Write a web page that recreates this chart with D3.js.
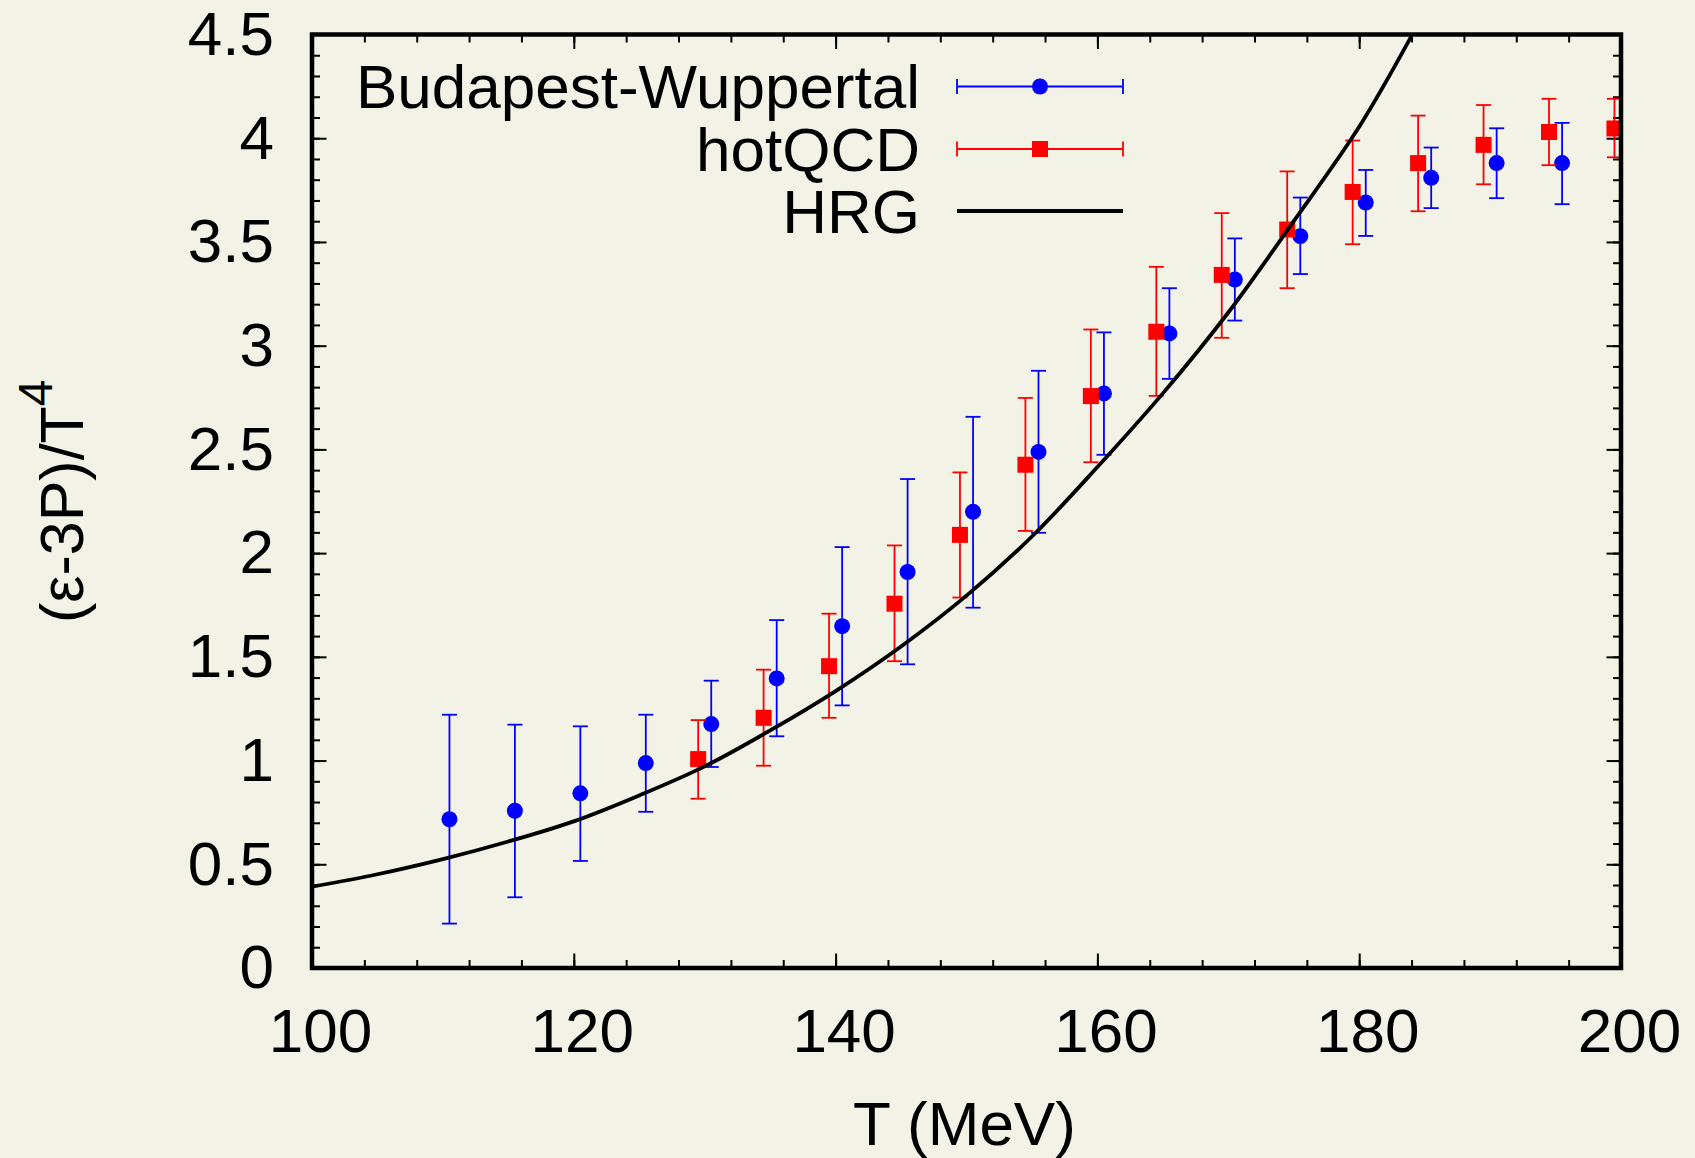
<!DOCTYPE html>
<html>
<head>
<meta charset="utf-8">
<script src="https://cdnjs.cloudflare.com/ajax/libs/d3/7.8.5/d3.min.js"></script>
<style>
    body { margin: 0; background: #f2f2e6; }
    svg text { font-family: "Liberation Sans", Arial, Helvetica, sans-serif; fill: #000; }
</style>
</head>
<body>
<div id="chart"></div>
<script>

// Budapest-Wuppertal lattice points
const bwT    = [110.5, 115.5, 120.5, 125.5, 130.5, 135.5, 140.5, 145.5, 150.5, 155.5, 160.5, 165.5, 170.5, 175.5, 180.5, 185.5, 190.5, 195.5];
const bwVal  = [0.717, 0.758, 0.842, 0.988, 1.176, 1.396, 1.648, 1.909, 2.199, 2.488, 2.770, 3.059, 3.319, 3.528, 3.690, 3.809, 3.880, 3.880];
const bwLow  = [0.214, 0.341, 0.516, 0.753, 0.969, 1.117, 1.266, 1.464, 1.737, 2.098, 2.474, 2.840, 3.121, 3.345, 3.529, 3.663, 3.711, 3.682];
const bwHigh = [1.221, 1.173, 1.165, 1.221, 1.385, 1.677, 2.029, 2.357, 2.657, 2.879, 3.064, 3.277, 3.517, 3.714, 3.847, 3.955, 4.048, 4.074];

// hotQCD lattice points
const hqT    = [129.5, 134.5, 139.5, 144.5, 149.5, 154.5, 159.5, 164.5, 169.5, 174.5, 179.5, 184.5, 189.5, 194.5, 199.5];
const hqVal  = [1.007, 1.206, 1.455, 1.756, 2.088, 2.426, 2.757, 3.067, 3.341, 3.560, 3.741, 3.880, 3.968, 4.030, 4.047];
const hqLow  = [0.816, 0.975, 1.206, 1.479, 1.786, 2.107, 2.438, 2.758, 3.038, 3.277, 3.489, 3.648, 3.778, 3.870, 3.908];
const hqHigh = [1.195, 1.438, 1.708, 2.037, 2.389, 2.748, 3.078, 3.380, 3.639, 3.840, 3.989, 4.109, 4.160, 4.190, 4.190];

// hadron resonance gas curve
const hrgT   = [100, 105, 110, 115, 120, 125, 130, 135, 140, 145, 150, 155, 160, 165, 170, 175, 180, 184];
const hrgVal = [0.392, 0.452, 0.525, 0.610, 0.707, 0.832, 0.972, 1.145, 1.335, 1.550, 1.795, 2.080, 2.415, 2.770, 3.160, 3.600, 4.055, 4.493];

// axes
const xTicks = [100, 120, 140, 160, 180, 200];
const xTickLabels = ["100", "120", "140", "160", "180", "200"];
const yTicks = [0, 0.5, 1, 1.5, 2, 2.5, 3, 3.5, 4, 4.5];
const yTickLabels = ["0", "0.5", "1", "1.5", "2", "2.5", "3", "3.5", "4", "4.5"];

const seriesNames = ["Budapest-Wuppertal", "hotQCD", "HRG"];


class EosChart {

    constructor(parentElement) {
        this._parentElement = parentElement;
        this.initVis();
    }

    initVis() {
        let vis = this;

        vis.margin = {top: 34.5, right: 74, bottom: 190, left: 312};
        vis.width = 1695 - vis.margin.left - vis.margin.right;
        vis.height = 1158 - vis.margin.top - vis.margin.bottom;

        vis.root = d3.select("#" + vis._parentElement).append("svg")
            .attr("width", 1695)
            .attr("height", 1158)
            .style("display", "block");

        vis.root.append("rect")
            .attr("width", 1695)
            .attr("height", 1158)
            .attr("fill", "#f2f2e6");

        vis.svg = vis.root.append("g")
            .attr("transform", "translate(" + vis.margin.left + "," + vis.margin.top + ")");

        vis.svg.append("clipPath")
            .attr("id", "plot-clip")
            .append("rect")
            .attr("width", vis.width)
            .attr("height", vis.height);

        // Scales
        vis.x = d3.scaleLinear().domain([100, 200]).range([0, vis.width]);
        vis.y = d3.scaleLinear().domain([0, 4.5]).range([vis.height, 0]);

        vis.drawAxes();
        vis.updateVis();
        vis.drawLegend();
    }

    drawAxes() {
        let vis = this;
        let major = 14.5, minor = 8;
        let xMinor = d3.range(100, 200.1, 4);
        let yMinor = d3.range(0, 45.1, 1).map(d => d / 10);

        let addAxis = function(axis, tf, cls) {
            let g = vis.svg.append("g")
                .attr("class", cls)
                .attr("transform", tf)
                .call(axis);
            g.select(".domain").remove();
            g.selectAll(".tick line").attr("stroke", "#000").attr("stroke-width", 2);
            return g;
        };

        // minor ticks on all four sides
        addAxis(d3.axisBottom(vis.x).tickValues(xMinor).tickSize(-minor).tickFormat(""), "translate(0," + vis.height + ")", "x-minor");
        addAxis(d3.axisTop(vis.x).tickValues(xMinor).tickSize(-minor).tickFormat(""), "translate(0,0)", "x-minor");
        addAxis(d3.axisLeft(vis.y).tickValues(yMinor).tickSize(-minor).tickFormat(""), "translate(0,0)", "y-minor");
        addAxis(d3.axisRight(vis.y).tickValues(yMinor).tickSize(-minor).tickFormat(""), "translate(" + vis.width + ",0)", "y-minor");

        // major ticks
        let xAxis = addAxis(d3.axisBottom(vis.x).tickValues(xTicks).tickSize(-major).tickPadding(40)
            .tickFormat((d, i) => xTickLabels[i]), "translate(0," + vis.height + ")", "x-axis axis");
        xAxis.selectAll("text").attr("font-size", 62).attr("dx", 8);

        addAxis(d3.axisTop(vis.x).tickValues(xTicks).tickSize(-major).tickFormat(""), "translate(0,0)", "x-top");

        let yAxis = addAxis(d3.axisLeft(vis.y).tickValues(yTicks).tickSize(-major).tickPadding(38)
            .tickFormat((d, i) => yTickLabels[i]), "translate(0,0)", "y-axis axis");
        yAxis.selectAll("text").attr("font-size", 62);

        addAxis(d3.axisRight(vis.y).tickValues(yTicks).tickSize(-major).tickFormat(""), "translate(" + vis.width + ",0)", "y-right");

        vis.svg.selectAll(".axis text").attr("font-family", null);

        // axis titles
        vis.svg.append("text")
            .attr("x", vis.width / 2 - 2)
            .attr("y", vis.height + 177)
            .attr("text-anchor", "middle")
            .attr("font-size", 62)
            .text("T (MeV)");

        let yTitle = vis.root.append("text")
            .attr("transform", "translate(83," + (vis.margin.top + vis.height / 2) + ") rotate(-90)")
            .attr("text-anchor", "middle")
            .attr("font-size", 61);
        yTitle.append("tspan").text("(ε-3P)/T");
        yTitle.append("tspan").attr("dy", -31).attr("font-size", 48).text("4");
    }

    drawErrorSeries(T, val, low, high, color, cls) {
        let vis = this;
        let data = T.map((t, i) => ({t: t, v: val[i], lo: low[i], hi: high[i]}));
        let cap = 7.5;

        let g = vis.svg.append("g").attr("class", cls);

        let bars = g.selectAll(".bar").data(data).enter().append("g").attr("class", "bar")
            .attr("stroke", color).attr("stroke-width", 1.8);
        bars.append("line")
            .attr("x1", d => vis.x(d.t)).attr("x2", d => vis.x(d.t))
            .attr("y1", d => vis.y(d.lo)).attr("y2", d => vis.y(d.hi));
        bars.append("line")
            .attr("x1", d => vis.x(d.t) - cap).attr("x2", d => vis.x(d.t) + cap)
            .attr("y1", d => vis.y(d.lo)).attr("y2", d => vis.y(d.lo));
        bars.append("line")
            .attr("x1", d => vis.x(d.t) - cap).attr("x2", d => vis.x(d.t) + cap)
            .attr("y1", d => vis.y(d.hi)).attr("y2", d => vis.y(d.hi));
        return {g: g, data: data};
    }

    updateVis() {
        let vis = this;

        // Budapest-Wuppertal: blue circles
        let bw = vis.drawErrorSeries(bwT, bwVal, bwLow, bwHigh, "#0000ff", "bw");
        bw.g.selectAll("circle").data(bw.data).enter().append("circle")
            .attr("cx", d => vis.x(d.t))
            .attr("cy", d => vis.y(d.v))
            .attr("r", 8)
            .attr("fill", "#0000ff");

        // hotQCD: red squares
        let hq = vis.drawErrorSeries(hqT, hqVal, hqLow, hqHigh, "#ff0000", "hq");
        hq.g.selectAll("rect").data(hq.data).enter().append("rect")
            .attr("x", d => vis.x(d.t) - 8)
            .attr("y", d => vis.y(d.v) - 8)
            .attr("width", 16)
            .attr("height", 16)
            .attr("fill", "#ff0000");

        // HRG line
        vis.line = d3.line()
            .x((d, i) => vis.x(hrgT[i]))
            .y(d => vis.y(d))
            .curve(d3.curveCatmullRom.alpha(0.5));

        vis.svg.append("path")
            .datum(hrgVal)
            .attr("clip-path", "url(#plot-clip)")
            .attr("fill", "none")
            .attr("stroke", "#000")
            .attr("stroke-width", 3.8)
            .attr("d", vis.line);

        // frame
        vis.svg.append("rect")
            .attr("width", vis.width)
            .attr("height", vis.height)
            .attr("fill", "none")
            .attr("stroke", "#000")
            .attr("stroke-width", 4.5);
    }

    drawLegend() {
        let vis = this;
        let textX = 920, x0 = 957, x1 = 1123, xm = (x0 + x1) / 2;
        let rows = [86.5, 149, 211];
        let colors = ["#0000ff", "#ff0000", "#000"];

        let lg = vis.root.append("g").attr("class", "legend");

        rows.forEach(function(ry, i) {
            lg.append("text")
                .attr("x", textX)
                .attr("y", ry + 21.5)
                .attr("text-anchor", "end")
                .attr("font-size", 62)
                .text(seriesNames[i]);

            lg.append("line")
                .attr("x1", x0).attr("x2", x1)
                .attr("y1", ry).attr("y2", ry)
                .attr("stroke", colors[i])
                .attr("stroke-width", i === 2 ? 3.8 : 1.8);

            if (i < 2) {
                [x0, x1].forEach(function(cx) {
                    lg.append("line")
                        .attr("x1", cx).attr("x2", cx)
                        .attr("y1", ry - 7.5).attr("y2", ry + 7.5)
                        .attr("stroke", colors[i])
                        .attr("stroke-width", 1.8);
                });
            }
        });

        lg.append("circle").attr("cx", xm).attr("cy", rows[0]).attr("r", 8).attr("fill", "#0000ff");
        lg.append("rect").attr("x", xm - 8).attr("y", rows[1] - 8).attr("width", 16).attr("height", 16).attr("fill", "#ff0000");
    }
}

let chart = new EosChart("chart");

</script>
</body>
</html>
